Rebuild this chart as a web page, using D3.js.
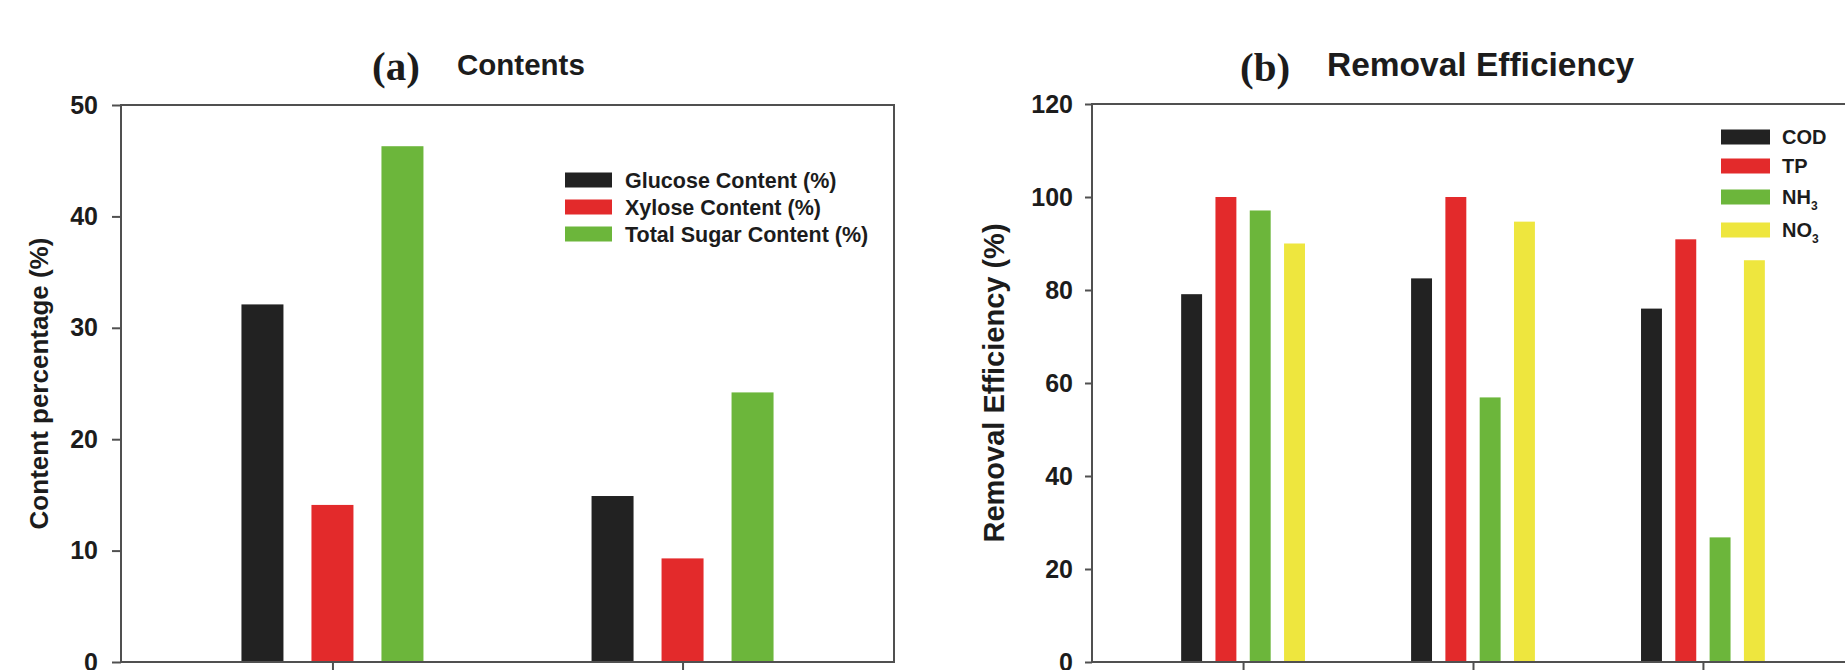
<!DOCTYPE html>
<html>
<head>
<meta charset="utf-8">
<script src="https://cdn.jsdelivr.net/npm/d3@7"></script>
<style>
  html, body { margin: 0; padding: 0; background: #fff; }
  svg { display: block; }
</style>
</head>
<body>
<svg id="chart" width="1845" height="670"></svg>
<script>
// ---------- data ----------
const contentCategories = ["Group 1", "Group 2"];
const contentSeries = ["Glucose Content (%)", "Xylose Content (%)", "Total Sugar Content (%)"];
const glucoseContent = [32.1, 14.9];
const xyloseContent = [14.1, 9.3];
const totalSugarContent = [46.3, 24.2];
const contentTicks = [0, 10, 20, 30, 40, 50];

const removalCategories = ["Group 1", "Group 2", "Group 3"];
const removalSeries = ["COD", "TP", "NH3", "NO3"];
const codRemoval = [79.1, 82.5, 76.0];
const tpRemoval = [100, 100, 90.9];
const nh3Removal = [97.1, 56.9, 26.8];
const no3Removal = [90.0, 94.7, 86.4];
const removalTicks = [0, 20, 40, 60, 80, 100, 120];

// ---------- styles ----------
const SANS = "'Liberation Sans', Arial, Helvetica, sans-serif";
const SERIF = "'Liberation Serif', 'Times New Roman', serif";
const TXT = "#1c1c1c";
const FRAME = "#505050";
const colBlack = "#222222", colRed = "#e32a2b", colGreen = "#6cb63b", colYellow = "#eee63e";

const svg = d3.select("#chart");

function panel(cfg) {
  const g = svg.append("g");
  const y = d3.scaleLinear().domain(cfg.yDomain).range([cfg.y0, cfg.y1]);
  const x0 = d3.scalePoint().domain(cfg.categories).range([cfg.xL, cfg.xR]).padding(cfg.pad);
  const x1 = d3.scaleBand().domain(cfg.series).range([-cfg.half, cfg.half])
    .paddingInner(cfg.pIn).paddingOuter(cfg.pIn / 2);
  const color = d3.scaleOrdinal().domain(cfg.series).range(cfg.colors);

  // bars
  const rows = [];
  cfg.categories.forEach((c, i) => cfg.series.forEach((s, j) => rows.push({c, s, v: cfg.values[j][i]})));
  g.selectAll("rect.bar").data(rows).enter().append("rect")
    .attr("class", "bar")
    .attr("x", d => x0(d.c) + x1(d.s))
    .attr("width", x1.bandwidth())
    .attr("y", d => y(d.v))
    .attr("height", d => y(0) - y(d.v))
    .attr("fill", d => color(d.s));

  // frame
  g.append("rect")
    .attr("x", cfg.xL).attr("y", y(cfg.yDomain[1]))
    .attr("width", cfg.xR - cfg.xL).attr("height", y(0) - y(cfg.yDomain[1]))
    .attr("fill", "none").attr("stroke", FRAME).attr("stroke-width", 2);

  // y axis
  const ya = g.append("g").attr("transform", `translate(${cfg.xL},0)`)
    .call(d3.axisLeft(y).tickValues(cfg.ticks).tickSize(cfg.tickLen).tickSizeOuter(0).tickPadding(cfg.tickPad));
  ya.select(".domain").remove();
  ya.selectAll(".tick line").attr("stroke", FRAME).attr("stroke-width", 2);
  ya.selectAll(".tick text").attr("font-family", SANS).attr("font-weight", "bold")
    .attr("font-size", cfg.tickFont).attr("fill", TXT);

  // x axis (category ticks, labels off-canvas)
  const xa = g.append("g").attr("transform", `translate(0,${y(0)})`)
    .call(d3.axisBottom(x0).tickSize(9).tickSizeOuter(0).tickFormat(""));
  xa.select(".domain").remove();
  xa.selectAll(".tick line").attr("stroke", FRAME).attr("stroke-width", 2);

  // y label
  g.append("text")
    .attr("transform", `translate(${cfg.yLabelX},${(y(0) + y(cfg.yDomain[1])) / 2}) rotate(-90)`)
    .attr("text-anchor", "middle")
    .attr("font-family", SANS).attr("font-weight", "bold").attr("font-size", cfg.yLabelFont)
    .attr("fill", TXT).text(cfg.yLabel);

  // title
  g.append("text").attr("x", cfg.tagX).attr("y", cfg.titleY + 5)
    .attr("font-family", SERIF).attr("font-weight", "bold").attr("font-size", 41)
    .attr("fill", TXT).text(cfg.tag);
  g.append("text").attr("x", cfg.titleX).attr("y", cfg.titleY)
    .attr("font-family", SANS).attr("font-weight", "bold").attr("font-size", cfg.titleFont)
    .attr("fill", TXT).text(cfg.title);

  // legend
  const lg = g.append("g");
  cfg.series.forEach((s, j) => {
    const cy = cfg.legY[j];
    lg.append("rect").attr("x", cfg.legX).attr("y", cy - cfg.swH / 2)
      .attr("width", cfg.swW).attr("height", cfg.swH).attr("fill", color(s));
    const t = lg.append("text").attr("x", cfg.legX + cfg.swW + cfg.legGap).attr("y", cy)
      .attr("dy", "0.36em")
      .attr("font-family", SANS).attr("font-weight", "bold").attr("font-size", cfg.legFont)
      .attr("fill", TXT);
    const m = /^([A-Za-z]+)(\d)$/.exec(s);
    if (m) {
      t.append("tspan").text(m[1]);
      t.append("tspan").attr("font-size", cfg.legFont * 0.6).attr("dy", 6).text(m[2]);
    } else {
      t.text(s);
    }
  });
}

panel({
  categories: contentCategories, series: contentSeries,
  values: [glucoseContent, xyloseContent, totalSugarContent],
  colors: [colBlack, colRed, colGreen],
  yDomain: [0, 50], ticks: contentTicks, y0: 662, y1: 105,
  xL: 121, xR: 894, pad: 0.604, half: 105, pIn: 0.4,
  tickLen: 9, tickPad: 14, tickFont: 25,
  yLabel: "Content percentage (%)", yLabelX: 48, yLabelFont: 26,
  tag: "(a)", tagX: 372, title: "Contents", titleX: 457, titleY: 75, titleFont: 29.5,
  legX: 565, legY: [180, 207, 234], swW: 47, swH: 15, legGap: 13, legFont: 21.5
});

panel({
  categories: removalCategories, series: removalSeries,
  values: [codRemoval, tpRemoval, nh3Removal, no3Removal],
  colors: [colBlack, colRed, colGreen, colYellow],
  yDomain: [0, 120], ticks: removalTicks, y0: 662, y1: 104,
  xL: 1092, xR: 1854, pad: 0.657, half: 68.6, pIn: 0.39,
  tickLen: 7, tickPad: 12, tickFont: 25,
  yLabel: "Removal Efficiency (%)", yLabelX: 1004, yLabelFont: 29,
  tag: "(b)", tagX: 1240, title: "Removal Efficiency", titleX: 1327, titleY: 76, titleFont: 33.5,
  legX: 1721, legY: [137, 166, 197, 230], swW: 49, swH: 15, legGap: 12, legFont: 20
});
</script>
</body>
</html>
